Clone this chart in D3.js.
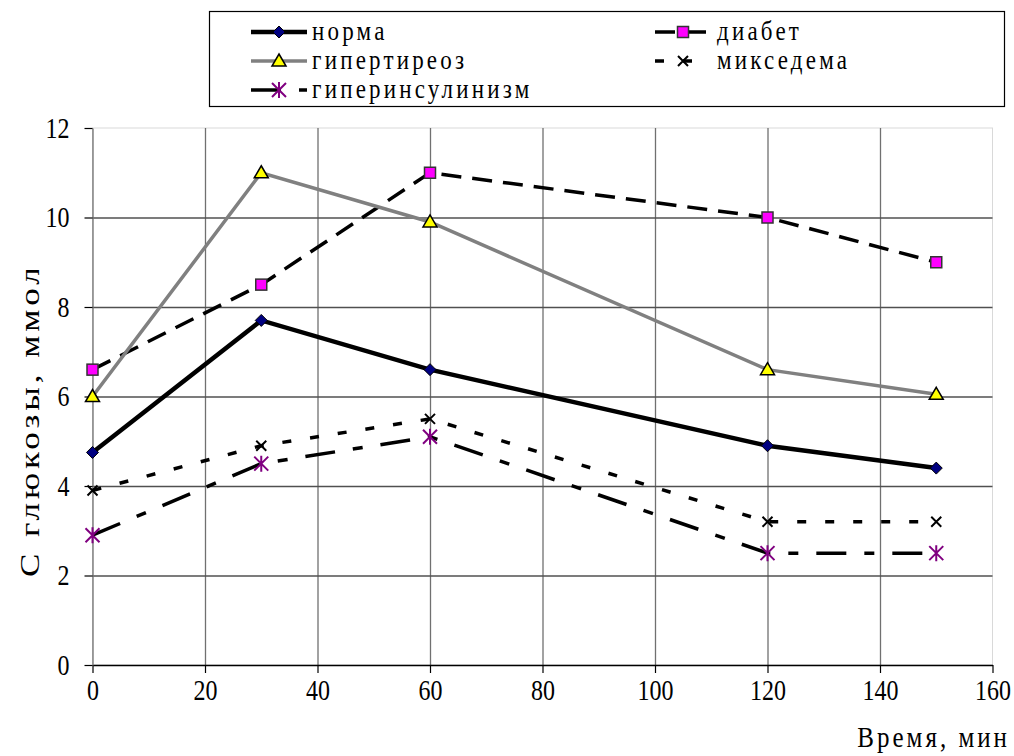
<!DOCTYPE html>
<html>
<head>
<meta charset="utf-8">
<script src="https://cdn.jsdelivr.net/npm/d3@7"></script>
<style>
  body { margin: 0; background: #fff; }
  svg { display: block; }
  text { font-family: "Liberation Serif", "DejaVu Serif", serif; fill: #000; }
</style>
</head>
<body>
<div id="chart"></div>
<script>
// time points (min)
var times = [0, 30, 60, 120, 150];

// series names
var seriesNames = ["норма", "диабет", "гипертиреоз", "микседема", "гиперинсулинизм"];

// glucose values, mmol/l
var normaValues = [4.75, 7.7, 6.6, 4.9, 4.4];
var diabetValues = [6.6, 8.5, 11, 10, 9];
var hyperthyroidValues = [6, 11, 9.9, 6.6, 6.05];
var myxedemaValues = [3.9, 4.9, 5.5, 3.2, 3.2];
var hyperinsulinValues = [2.9, 4.5, 5.1, 2.5, 2.5];

// tick labels
var xTicks = [0, 20, 40, 60, 80, 100, 120, 140, 160];
var yTicks = [0, 2, 4, 6, 8, 10, 12];

function drawChart() {
    var w = 1014, h = 756;
    var plotLeft = 92.5, plotRight = 992.5, plotTop = 128, plotBottom = 665;
    var stretch = 1.2; // the original scan is stretched vertically

    var svg = d3.select("#chart").append("svg")
        .attr("width", w)
        .attr("height", h);

    var xScale = d3.scaleLinear().domain([0, 160]).range([plotLeft, plotRight]);
    var yScale = d3.scaleLinear().domain([0, 12]).range([plotBottom, plotTop]);

    // light plot-area border
    svg.append("rect")
        .attr("x", plotLeft).attr("y", plotTop)
        .attr("width", plotRight - plotLeft).attr("height", plotBottom - plotTop)
        .attr("fill", "none")
        .attr("stroke", "#d9d9d9")
        .attr("stroke-width", 1);

    // vertical gridlines
    svg.append("g")
        .attr("transform", "translate(0," + plotTop + ")")
        .call(d3.axisBottom(xScale).tickValues(xTicks.slice(1, -1)).tickSize(plotBottom - plotTop).tickFormat(""))
        .call(g => g.select(".domain").remove())
        .selectAll("line")
        .attr("stroke", "#707070")
        .attr("stroke-width", 1.3);

    // horizontal gridlines
    svg.append("g")
        .attr("transform", "translate(" + plotLeft + ",0)")
        .call(d3.axisRight(yScale).tickValues(yTicks.slice(1, -1)).tickSize(plotRight - plotLeft).tickFormat(""))
        .call(g => g.select(".domain").remove())
        .selectAll("line")
        .attr("stroke", "#505050")
        .attr("stroke-width", 1.3);

    // x axis
    var xAxis = svg.append("g")
        .attr("transform", "translate(0," + plotBottom + ")")
        .call(d3.axisBottom(xScale).tickValues(xTicks).tickSize(8).tickSizeOuter(0));
    xAxis.select(".domain").attr("stroke", "#000").attr("stroke-width", 1.3);
    xAxis.selectAll("line").attr("stroke", "#000").attr("stroke-width", 1.2);
    xAxis.selectAll("text")
        .attr("y", 0).attr("dy", 0)
        .attr("transform", "translate(0,35) scale(1," + stretch + ")")
        .style("font-size", "24px").style("font-family", "Liberation Serif").attr("fill", "#000");

    // y axis
    var yAxis = svg.append("g")
        .attr("transform", "translate(" + plotLeft + ",0)")
        .call(d3.axisLeft(yScale).tickValues(yTicks).tickSize(8).tickSizeOuter(0).tickPadding(15));
    yAxis.select(".domain").attr("stroke", "#707070").attr("stroke-width", 1.3);
    yAxis.selectAll("line").attr("stroke", "#000").attr("stroke-width", 1.2);
    yAxis.selectAll("text")
        .attr("transform", "scale(1," + stretch + ")")
        .style("font-size", "24px").style("font-family", "Liberation Serif").attr("fill", "#000");

    // series styling
    var styles = [
        { color: "#000", width: 4.5, dash: null, marker: "diamond" },
        { color: "#000", width: 3.5, dash: "20,11", marker: "square" },
        { color: "#808080", width: 3.5, dash: null, marker: "triangle" },
        { color: "#000", width: 3.5, dash: "9,19", marker: "cross" },
        { color: "#000", width: 3.5, dash: "30,18,10,18", marker: "star" }
    ];
    var allValues = [normaValues, diabetValues, hyperthyroidValues, myxedemaValues, hyperinsulinValues];

    var line = d3.line()
        .x(d => xScale(d.t))
        .y(d => yScale(d.v));

    function drawMarker(g, type, cx, cy) {
        if (type === "diamond") {
            g.append("path")
                .attr("d", "M" + cx + "," + (cy - 6) + "L" + (cx + 6) + "," + cy + "L" + cx + "," + (cy + 6) + "L" + (cx - 6) + "," + cy + "Z")
                .attr("fill", "#000080").attr("stroke", "#000").attr("stroke-width", 1);
        } else if (type === "square") {
            g.append("rect")
                .attr("x", cx - 5.5).attr("y", cy - 5.5)
                .attr("width", 11).attr("height", 11)
                .attr("fill", "#ff00ff").attr("stroke", "#333").attr("stroke-width", 1.5);
        } else if (type === "triangle") {
            g.append("path")
                .attr("d", "M" + cx + "," + (cy - 7) + "L" + (cx + 7) + "," + (cy + 5) + "L" + (cx - 7) + "," + (cy + 5) + "Z")
                .attr("fill", "#ffff00").attr("stroke", "#000").attr("stroke-width", 1.5);
        } else if (type === "cross") {
            g.append("path")
                .attr("d", "M" + (cx - 5) + "," + (cy - 5) + "L" + (cx + 5) + "," + (cy + 5) +
                    "M" + (cx - 5) + "," + (cy + 5) + "L" + (cx + 5) + "," + (cy - 5))
                .attr("stroke", "#000").attr("stroke-width", 2);
        } else if (type === "star") {
            g.append("path")
                .attr("d", "M" + (cx - 7) + "," + (cy - 7) + "L" + (cx + 7) + "," + (cy + 7) +
                    "M" + (cx - 7) + "," + (cy + 7) + "L" + (cx + 7) + "," + (cy - 7) +
                    "M" + cx + "," + (cy - 8) + "L" + cx + "," + (cy + 8))
                .attr("stroke", "#800080").attr("stroke-width", 2);
        }
    }

    var seriesG = svg.append("g");
    allValues.forEach(function (vals, i) {
        var pts = times.map((t, j) => ({ t: t, v: vals[j] }));
        var st = styles[i];
        seriesG.append("path")
            .datum(pts)
            .attr("d", line)
            .attr("fill", "none")
            .attr("stroke", st.color)
            .attr("stroke-width", st.width)
            .attr("stroke-dasharray", st.dash);
    });
    allValues.forEach(function (vals, i) {
        var g = seriesG.append("g");
        times.forEach(function (t, j) {
            drawMarker(g, styles[i].marker, xScale(t), yScale(vals[j]));
        });
    });

    // legend
    var legend = svg.append("g");
    legend.append("rect")
        .attr("x", 209.5).attr("y", 11.5)
        .attr("width", 795).attr("height", 95)
        .attr("fill", "#fff").attr("stroke", "#000").attr("stroke-width", 1.2);

    var legendPos = [
        { x: 251, y: 32 }, { x: 655, y: 32 },
        { x: 251, y: 61 }, { x: 655, y: 61 },
        { x: 251, y: 90 }
    ];
    seriesNames.forEach(function (name, i) {
        var p = legendPos[i], st = styles[i];
        legend.append("line")
            .attr("x1", p.x).attr("x2", p.x + 56)
            .attr("y1", p.y).attr("y2", p.y)
            .attr("stroke", st.color)
            .attr("stroke-width", st.width)
            .attr("stroke-dasharray", st.dash);
        drawMarker(legend, st.marker, p.x + 28, p.y);
        legend.append("text")
            .attr("transform", "translate(" + (p.x + 61 + (i % 2 === 1 ? 1 : 0)) + "," + (p.y + 8) + ") scale(1," + stretch + ")")
            .style("font-size", "23px")
            .style("letter-spacing", "3.2px")
            .text(name);
    });

    // axis titles
    svg.append("text")
        .attr("transform", "translate(1010,747) scale(1," + stretch + ")")
        .attr("text-anchor", "end")
        .style("font-size", "25px")
        .style("letter-spacing", "3px")
        .text("Время, мин");

    svg.append("clipPath").attr("id", "ylabClip")
        .append("rect").attr("x", 0).attr("y", 270).attr("width", 60).attr("height", 330);

    svg.append("g")
        .attr("clip-path", "url(#ylabClip)")
        .append("text")
        .attr("transform", "translate(39,577) rotate(-90) scale(1.3,1)")
        .attr("text-anchor", "start")
        .style("font-size", "27px")
        .style("letter-spacing", "3px")
        .text("С глюкозы, ммоль/л");
}

drawChart();
</script>
</body>
</html>
